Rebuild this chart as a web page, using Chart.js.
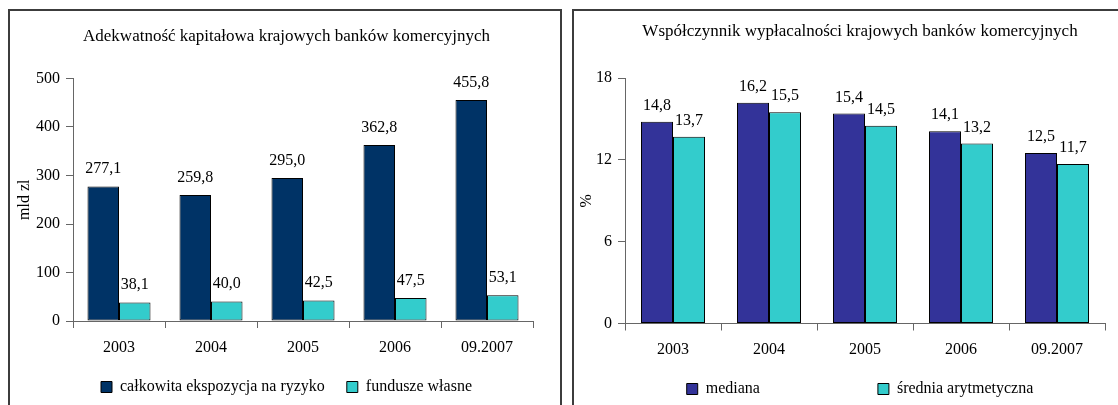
<!DOCTYPE html>
<html>
<head>
<meta charset="utf-8">
<script src="https://cdn.jsdelivr.net/npm/chart.js@4.4.1/dist/chart.umd.min.js"></script>
<style>
  html, body { margin: 0; padding: 0; background: #fff; overflow: hidden; }
  body { width: 1118px; height: 405px; position: relative; }
  .frame { position: absolute; border: 2px solid #3c3c3c; box-sizing: border-box; }
  #f1 { left: 8px; top: 9px; width: 554px; height: 430px; }
  #f2 { left: 572px; top: 9px; width: 600px; height: 430px; }
  .wrap { position: absolute; }
  #w1 { left: 10px; top: 11px; width: 553px; height: 394px; }
  #w2 { left: 574px; top: 11px; width: 572px; height: 396px; }
</style>
</head>
<body>
<div class="frame" id="f1"></div>
<div class="frame" id="f2"></div>
<div class="wrap" id="w1"><canvas id="capital"></canvas></div>
<div class="wrap" id="w2"><canvas id="solvency"></canvas></div>
<script>
// data
const years = ["2003", "2004", "2005", "2006", "09.2007"];
const exposure = [277.1, 259.8, 295.0, 362.8, 455.8];   // całkowita ekspozycja na ryzyko
const ownFunds = [38.1, 40.0, 42.5, 47.5, 53.1];        // fundusze własne
const median = [14.8, 16.2, 15.4, 14.1, 12.5];
const mean = [13.7, 15.5, 14.5, 13.2, 11.7];
const capitalMax = 500, capitalStep = 100;
const ratioMax = 18, ratioStep = 6;

const NAVY = "#003366";
const INDIGO = "#333399";
const CYAN = "#33CCCC";
const AXIS = "#666666";

Chart.defaults.font.family = '"Liberation Serif", "Times New Roman", serif';
Chart.defaults.font.size = 16;
Chart.defaults.color = "#000";

// numbers over the bars, polish decimal comma
const valueLabels = {
  id: "valueLabels",
  afterDatasetsDraw(chart, args, opts) {
    const ctx = chart.ctx;
    ctx.save();
    ctx.font = '16px "Liberation Serif", "Times New Roman", serif';
    ctx.fillStyle = "#000";
    ctx.textAlign = "center";
    ctx.textBaseline = "middle";
    chart.data.datasets.forEach((ds, i) => {
      chart.getDatasetMeta(i).data.forEach((bar, j) => {
        ctx.fillText(ds.data[j].toFixed(1).replace(".", ","), bar.x, bar.y - opts.offset);
      });
    });
    ctx.restore();
  }
};

function makeChart(id, cfg) {
  const ctx = document.getElementById(id).getContext("2d");
  return new Chart(ctx, {
    type: "bar",
    data: {
      labels: years,
      datasets: cfg.series.map(s => ({
        label: s.label,
        data: s.data,
        backgroundColor: s.color,
        borderColor: "#000",
        borderWidth: 1,
        borderSkipped: false,
        categoryPercentage: cfg.catPct,
        barPercentage: 1.0,
      })),
    },
    plugins: [valueLabels],
    options: {
      responsive: true,
      maintainAspectRatio: false,
      animation: false,
      layout: { padding: 0 },
      scales: {
        x: {
          grid: { drawOnChartArea: false, tickLength: 7, color: AXIS, offset: true },
          border: { color: AXIS, width: 1 },
          ticks: { padding: 10 },
          afterFit: s => { s.height = cfg.xHeight; },
        },
        y: {
          min: 0,
          max: cfg.max,
          ticks: { stepSize: cfg.step, padding: 6 },
          grid: { drawOnChartArea: false, tickLength: 7, color: AXIS },
          border: { color: AXIS, width: 1 },
          title: { display: true, text: cfg.yTitle, padding: { top: cfg.yTitlePad, bottom: 0 } },
          afterFit: s => { s.width = cfg.yWidth; },
        },
        spacer: {
          type: "linear",
          position: "right",
          grid: { display: false },
          border: { display: false },
          ticks: { display: false },
          afterFit: s => { s.width = cfg.rightGap; },
        },
      },
      plugins: {
        title: {
          display: true,
          text: cfg.title,
          font: { size: 17, weight: "normal" },
          color: "#000",
          padding: cfg.titlePad,
        },
        legend: {
          position: "bottom",
          labels: {
            boxWidth: 11,
            boxHeight: 11,
            padding: 22,
            color: "#000",
            generateLabels: chart => {
              const items = Chart.defaults.plugins.legend.labels.generateLabels(chart);
              if (cfg.firstLegendGap) items[0].text += " ".repeat(cfg.firstLegendGap);
              return items;
            },
          },
        },
        tooltip: { enabled: false },
        valueLabels: { offset: cfg.labelOffset },
      },
    },
  });
}

makeChart("capital", {
  title: "Adekwatność kapitałowa krajowych banków komercyjnych",
  series: [
    { label: "całkowita ekspozycja na ryzyko", data: exposure, color: NAVY },
    { label: "fundusze własne", data: ownFunds, color: CYAN },
  ],
  max: capitalMax, step: capitalStep,
  yTitle: "mld zl", yTitlePad: 5,
  yWidth: 63, rightGap: 30, xHeight: 36,
  catPct: 0.685,
  titlePad: { top: 15.5, bottom: 31.6 },
  labelOffset: 17.5,
  firstLegendGap: 0,
});

makeChart("solvency", {
  title: "Współczynnik wypłacalności krajowych banków komercyjnych",
  series: [
    { label: "mediana", data: median, color: INDIGO },
    { label: "średnia arytmetyczna", data: mean, color: CYAN },
  ],
  max: ratioMax, step: ratioStep,
  yTitle: "%", yTitlePad: 3,
  yWidth: 51, rightGap: 41, xHeight: 35.5,
  catPct: 0.667,
  titlePad: { top: 10.5, bottom: 36.2 },
  labelOffset: 16,
  firstLegendGap: 24,
});
</script>
</body>
</html>
